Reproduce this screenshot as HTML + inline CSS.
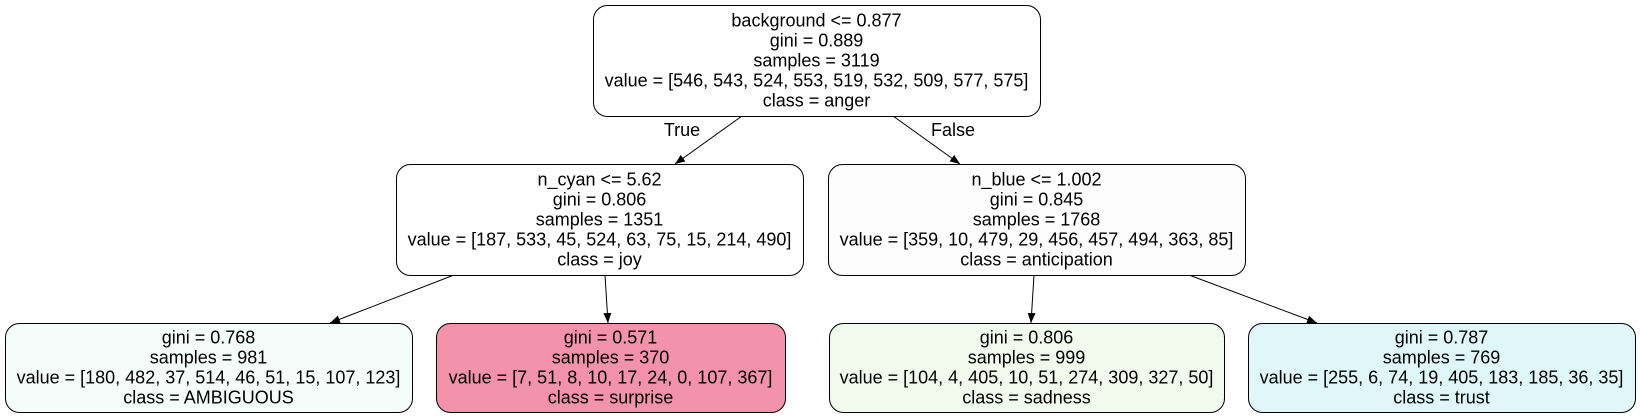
<!DOCTYPE html>
<html><head><meta charset="utf-8"><style>
html,body{margin:0;padding:0;background:#fff;width:1641px;height:419px;overflow:hidden}
svg text{font-family:"Liberation Sans",Arial,sans-serif;font-size:18px;fill:#000}
</style></head><body>
<svg id="tree" width="1641" height="419" viewBox="0 0 1641 419" xmlns="http://www.w3.org/2000/svg">
<defs><marker id="ah" viewBox="0 0 10 10" refX="10" refY="5" markerWidth="10" markerHeight="10" markerUnits="userSpaceOnUse" orient="auto"><path d="M0,1 L10,5 L0,9 z" fill="#000"/></marker></defs>
</svg>
<script>
const nodeNames=['root','n-cyan','n-blue','ambiguous','surprise','sadness','trust'];
const nodeBoxes=[[593,5,1040,116],[396,164,803,275],[828,164,1245,275],[5,323,412,412],[436,323,785,412],[829,323,1224,412],[1248,323,1635,412]];
const nodeFills=['#ffffff','#ffffff','#fdfdfd','#f5fdfb','#f292ab','#f2faee','#dff7f9'];
const nodeLines=[
['background <= 0.877','gini = 0.889','samples = 3119','value = [546, 543, 524, 553, 519, 532, 509, 577, 575]','class = anger'],
['n_cyan <= 5.62','gini = 0.806','samples = 1351','value = [187, 533, 45, 524, 63, 75, 15, 214, 490]','class = joy'],
['n_blue <= 1.002','gini = 0.845','samples = 1768','value = [359, 10, 479, 29, 456, 457, 494, 363, 85]','class = anticipation'],
['gini = 0.768','samples = 981','value = [180, 482, 37, 514, 46, 51, 15, 107, 123]','class = AMBIGUOUS'],
['gini = 0.571','samples = 370','value = [7, 51, 8, 10, 17, 24, 0, 107, 367]','class = surprise'],
['gini = 0.806','samples = 999','value = [104, 4, 405, 10, 51, 274, 309, 327, 50]','class = sadness'],
['gini = 0.787','samples = 769','value = [255, 6, 74, 19, 405, 183, 185, 36, 35]','class = trust']];
const edges=[[742,116,675,164],[893,116,960,164],[454,275,330,323],[605,275,608,323],[1034,275,1031,323],[1189,275,1317,323]];
const svg=document.getElementById('tree');
const NS='http://www.w3.org/2000/svg';
edges.forEach((e,i)=>{
  const l=document.createElementNS(NS,'line');
  l.setAttribute('x1',e[0]);l.setAttribute('y1',e[1]);l.setAttribute('x2',e[2]);l.setAttribute('y2',e[3]);
  l.setAttribute('stroke','#000');l.setAttribute('stroke-width','1');l.setAttribute('marker-end','url(#ah)');
  
  
  svg.appendChild(l);
});
[['True',682,136],['False',953,136]].forEach(t=>{
  const tx=document.createElementNS(NS,'text');
  tx.setAttribute('x',t[1]);tx.setAttribute('y',t[2]);tx.setAttribute('text-anchor','middle');
  tx.textContent=t[0];
  
  
  svg.appendChild(tx);
});
nodeBoxes.forEach((b,i)=>{
  const g=document.createElementNS(NS,'g');
  
  
  const r=document.createElementNS(NS,'rect');
  r.setAttribute('x',b[0]+0.5);r.setAttribute('y',b[1]+0.5);r.setAttribute('width',b[2]-b[0]);r.setAttribute('height',b[3]-b[1]);
  r.setAttribute('rx',14);r.setAttribute('fill',nodeFills[i]);r.setAttribute('stroke','#000');r.setAttribute('stroke-width','1');
  
  
  g.appendChild(r);
  const lines=nodeLines[i];const cx=(b[0]+b[2])/2;
  const cy=(b[1]+b[3])/2;const start=cy-(lines.length-1)*10+6;
  lines.forEach((s,j)=>{
    const t=document.createElementNS(NS,'text');
    t.setAttribute('x',cx);t.setAttribute('y',start+j*20);t.setAttribute('text-anchor','middle');
    t.textContent=s;
    
    
    g.appendChild(t);
  });
  svg.appendChild(g);
});
</script>
</body></html>
